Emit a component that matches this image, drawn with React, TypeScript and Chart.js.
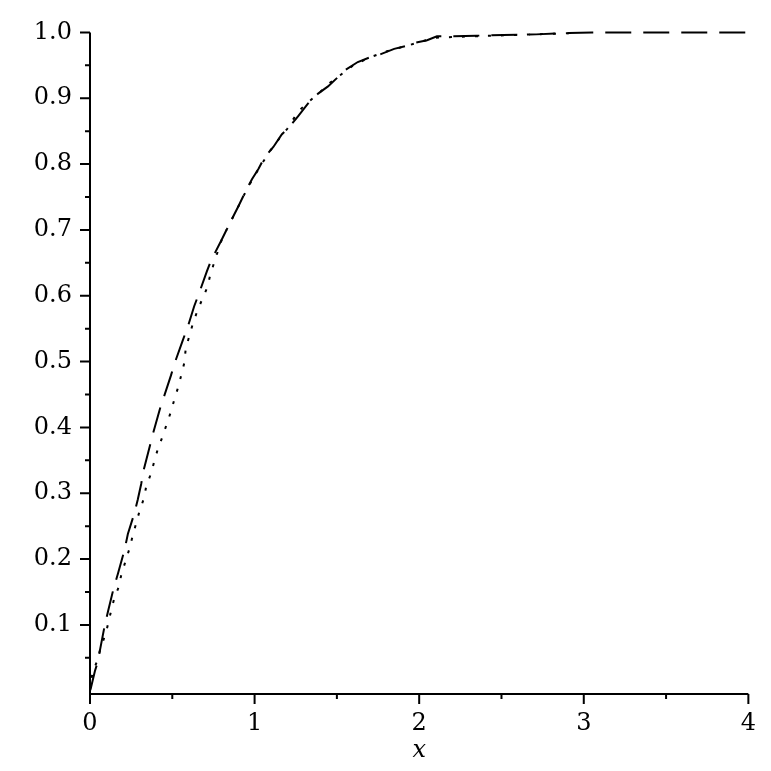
import React, { useEffect, useRef } from "react";
import { Chart, registerables } from "chart.js";

Chart.register(...registerables);

// Dashed curve (extends to x = 4)
const dashedX = [0, 0.006, 0.03, 0.05, 0.06, 0.09, 0.11, 0.14, 0.17, 0.21, 0.23, 0.27, 0.29, 0.311, 0.325, 0.366, 0.381, 0.426, 0.446, 0.492, 0.512, 0.562, 0.598, 0.633, 0.663, 0.71, 0.733, 0.763, 0.8, 0.843, 0.904, 0.944, 0.984, 1.024, 1.06, 1.114, 1.165, 1.22, 1.265, 1.325, 1.386, 1.446, 1.506, 1.546, 1.627, 1.7, 1.767, 1.848, 1.93, 1.968, 2.048, 2.108, 2.209, 2.349, 2.51, 2.71, 2.91, 3.05, 4.0];
const dashedY = [0, 0.005, 0.03, 0.046, 0.061, 0.1, 0.121, 0.152, 0.178, 0.214, 0.238, 0.27, 0.29, 0.314, 0.334, 0.374, 0.389, 0.429, 0.444, 0.479, 0.496, 0.531, 0.556, 0.584, 0.604, 0.637, 0.652, 0.667, 0.685, 0.707, 0.737, 0.758, 0.777, 0.793, 0.81, 0.826, 0.845, 0.859, 0.873, 0.892, 0.907, 0.918, 0.932, 0.942, 0.955, 0.962, 0.967, 0.975, 0.98, 0.984, 0.988, 0.994, 0.994, 0.995, 0.996, 0.997, 0.999, 1.0, 1.0];

// Dotted curve (ends near x = 3)
const dottedX = [0, 0.014, 0.04, 0.066, 0.097, 0.127, 0.146, 0.175, 0.19, 0.215, 0.24, 0.26, 0.3, 0.33, 0.341, 0.372, 0.392, 0.412, 0.442, 0.466, 0.492, 0.512, 0.538, 0.572, 0.582, 0.622, 0.652, 0.713, 0.729, 0.76, 0.803, 0.85, 0.91, 0.96, 1.03, 1.094, 1.145, 1.2, 1.265, 1.33, 1.4, 1.45, 1.52, 1.6, 1.7, 1.8, 1.9, 2.0, 2.1, 2.2, 2.44, 2.69, 2.94, 2.97];
const dottedY = [0, 0.026, 0.043, 0.066, 0.088, 0.12, 0.139, 0.158, 0.176, 0.196, 0.216, 0.236, 0.272, 0.294, 0.31, 0.331, 0.35, 0.367, 0.387, 0.405, 0.424, 0.442, 0.463, 0.497, 0.52, 0.555, 0.577, 0.613, 0.63, 0.655, 0.687, 0.71, 0.74, 0.765, 0.795, 0.82, 0.837, 0.854, 0.88, 0.895, 0.91, 0.922, 0.935, 0.95, 0.962, 0.971, 0.978, 0.985, 0.992, 0.993, 0.995, 0.997, 0.999, 1.0];

const xMajorTicks = [0, 1, 2, 3, 4];
const xMinorTicks = [0.5, 1.5, 2.5, 3.5];
const yMajorTicks = [0.1, 0.2, 0.3, 0.4, 0.5, 0.6, 0.7, 0.8, 0.9, 1.0];
const yMinorTicks = [0.05, 0.15, 0.25, 0.35, 0.45, 0.55, 0.65, 0.75, 0.85, 0.95];

const FONT = "'DejaVu Serif', serif";

const axesPlugin = {
  id: "mapleAxes",
  afterDatasetsDraw(chart: any) {
    const { ctx, chartArea, scales } = chart;
    const xs = scales.x;
    const ys = scales.y;
    ctx.save();
    ctx.strokeStyle = "#000";
    ctx.lineWidth = 2;
    ctx.lineCap = "butt";
    ctx.beginPath();
    ctx.moveTo(chartArea.left, chartArea.bottom);
    ctx.lineTo(chartArea.right, chartArea.bottom);
    ctx.moveTo(chartArea.left, chartArea.bottom);
    ctx.lineTo(chartArea.left, ys.getPixelForValue(1.0));
    xMajorTicks.forEach((v) => {
      const px = xs.getPixelForValue(v);
      ctx.moveTo(px, chartArea.bottom);
      ctx.lineTo(px, chartArea.bottom + 10);
    });
    xMinorTicks.forEach((v) => {
      const px = xs.getPixelForValue(v);
      ctx.moveTo(px, chartArea.bottom);
      ctx.lineTo(px, chartArea.bottom + 5);
    });
    yMajorTicks.forEach((v) => {
      const py = ys.getPixelForValue(v);
      ctx.moveTo(chartArea.left, py);
      ctx.lineTo(chartArea.left - 10, py);
    });
    yMinorTicks.forEach((v) => {
      const py = ys.getPixelForValue(v);
      ctx.moveTo(chartArea.left, py);
      ctx.lineTo(chartArea.left - 5, py);
    });
    ctx.stroke();
    ctx.restore();
  },
};

export default function App() {
  const canvasRef = useRef<HTMLCanvasElement | null>(null);

  useEffect(() => {
    if (!canvasRef.current) return;
    const dashed = dashedX.map((x, i) => ({ x, y: dashedY[i] }));
    const dotted = dottedX.map((x, i) => ({ x, y: dottedY[i] }));
    const chart = new Chart(canvasRef.current, {
      type: "scatter",
      data: {
        datasets: [
          {
            data: dotted,
            showLine: true,
            borderColor: "#000",
            borderWidth: 2,
            borderDash: [3, 10],
            pointRadius: 0,
            tension: 0,
            clip: false,
          } as any,
          {
            data: dashed,
            showLine: true,
            borderColor: "#000",
            borderWidth: 2,
            borderDash: [26, 12],
            pointRadius: 0,
            tension: 0,
            clip: false,
          } as any,
        ],
      },
      options: {
        animation: false,
        responsive: false,
        devicePixelRatio: 1,
        layout: { padding: { top: 25, right: 17, left: 0, bottom: 0 } },
        plugins: { legend: { display: false }, tooltip: { enabled: false } },
        scales: {
          x: {
            type: "linear",
            position: "bottom",
            min: 0,
            max: 4,
            grid: { display: false, drawTicks: false },
            border: { display: false },
            afterBuildTicks: (s: any) => {
              s.ticks = xMajorTicks.map((v) => ({ value: v }));
            },
            afterFit: (s: any) => {
              s.height = 77;
            },
            ticks: {
              padding: 15,
              color: "#000",
              font: { family: FONT, size: 24 },
              maxRotation: 0,
              autoSkip: false,
              callback: (v: any) => String(v),
            },
            title: {
              display: true,
              text: "x",
              color: "#000",
              font: { family: FONT, size: 24, style: "italic" },
              padding: { top: 0, bottom: 6 },
            },
          },
          y: {
            type: "linear",
            position: "left",
            min: -0.005,
            max: 1.0,
            grid: { display: false, drawTicks: false },
            border: { display: false },
            afterBuildTicks: (s: any) => {
              s.ticks = yMajorTicks.map((v) => ({ value: v }));
            },
            afterFit: (s: any) => {
              s.width = 90;
            },
            ticks: {
              padding: 18,
              color: "#000",
              font: { family: FONT, size: 24 },
              autoSkip: false,
              callback: (v: any) => Number(v).toFixed(1),
            },
          },
        },
      },
      plugins: [axesPlugin],
    });
    return () => chart.destroy();
  }, []);

  return (
    <div style={{ position: "absolute", left: 0, top: 0, width: 771, height: 771, background: "#fff" }}>
      <canvas ref={canvasRef} width={771} height={771} style={{ width: 771, height: 771, display: "block" }} />
    </div>
  );
}
